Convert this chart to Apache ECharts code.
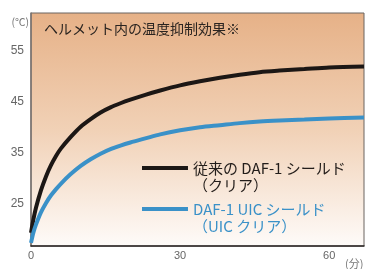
<!DOCTYPE html>
<html>
<head>
<meta charset="utf-8">
<script src="https://cdn.jsdelivr.net/npm/echarts@6/dist/echarts.min.js"></script>
<style>
  html, body { margin: 0; padding: 0; background: #fff; }
  #main { width: 367px; height: 269px; }
</style>
</head>
<body>
<div id="main"></div>
<script>
// time in minutes and temperature in °C
let minutes = [0, 0.5, 1, 2, 3, 4, 5, 6, 8, 10, 12, 14, 16, 18, 20, 23, 26, 30, 34, 38, 42, 46, 50, 55, 60, 67];
let clearShield = [19.3, 22.0, 24.2, 27.6, 30.3, 32.5, 34.3, 35.8, 38.1, 40.1, 41.6, 42.9, 43.9, 44.7, 45.4, 46.35, 47.2, 48.2, 49.0, 49.7, 50.3, 50.8, 51.1, 51.4, 51.7, 51.9];
let uicShield = [17.3, 19.4, 20.9, 23.3, 25.1, 26.6, 27.8, 28.9, 30.8, 32.4, 33.7, 34.8, 35.7, 36.4, 37.0, 37.8, 38.6, 39.4, 40.0, 40.4, 40.8, 41.1, 41.3, 41.5, 41.7, 41.9];
let xTicks = [0, 30, 60];
let yTicks = [25, 35, 45, 55];

let seriesNames = ['従来の DAF-1 シールド\n（クリア）', 'DAF-1 UIC シールド\n（UIC クリア）'];
let colors = ['#1c1715', '#3a91c8'];

const jpFont = '"Noto Sans CJK JP", "Noto Sans", sans-serif';

function pairs(values) {
    return minutes.map((t, i) => [t, values[i]]);
}

const legendIcon = 'path://M0,0H46V4H0Z M0,22H0.01V22.01H0Z';

const option = {
    animation: false,
    title: {
        text: 'ヘルメット内の温度抑制効果※',
        left: 44,
        top: 22,
        padding: 0,
        textStyle: { fontFamily: jpFont, fontSize: 14, fontWeight: 'normal', color: '#2a2420' }
    },
    grid: {
        left: 31, right: 3, top: 13, bottom: 14,
        show: true,
        borderColor: '#6b6461',
        borderWidth: 1,
        backgroundColor: new echarts.graphic.LinearGradient(0, 0, 0, 1, [
            { offset: 0, color: '#e6b187' },
            { offset: 0.5, color: '#f1d1b6' },
            { offset: 1, color: '#fefbf9' }
        ])
    },
    legend: {
        orient: 'vertical',
        left: 142,
        top: 160,
        padding: 0,
        itemGap: 7,
        itemWidth: 46,
        itemHeight: 22,
        icon: legendIcon,
        textStyle: { fontFamily: jpFont, fontSize: 15, lineHeight: 17 },
        data: [
            { name: seriesNames[0], textStyle: { color: '#231d1a' } },
            { name: seriesNames[1], textStyle: { color: colors[1] } }
        ]
    },
    xAxis: {
        type: 'value',
        min: 0,
        max: 67,
        name: '(分)',
        nameLocation: 'end',
        nameGap: -19,
        nameTextStyle: { fontFamily: jpFont, fontSize: 11, color: '#777', verticalAlign: 'top', padding: [12, 0, 0, 0] },
        axisLine: { show: true, lineStyle: { color: '#2b2624', width: 1.5 } },
        axisTick: { show: false },
        splitLine: { show: false },
        axisLabel: { customValues: xTicks, color: '#666', fontSize: 11, margin: 4 }
    },
    yAxis: {
        type: 'value',
        min: 16.7,
        max: 62.4,
        name: '(℃)',
        nameLocation: 'end',
        nameGap: -14,
        nameTextStyle: { fontFamily: jpFont, fontSize: 10.5, color: '#777', align: 'right', padding: [0, 2, 0, 0] },
        axisLine: { show: true, lineStyle: { color: '#7a7370', width: 1.5 } },
        axisTick: { show: false },
        splitLine: { show: false },
        axisLabel: { customValues: yTicks, color: '#666', fontSize: 12, margin: 7 }
    },
    series: [
        {
            name: seriesNames[0],
            type: 'line',
            data: pairs(clearShield),
            smooth: 0.3,
            showSymbol: false,
            color: colors[0],
            lineStyle: { width: 4, color: colors[0] }
        },
        {
            name: seriesNames[1],
            type: 'line',
            data: pairs(uicShield),
            smooth: 0.3,
            showSymbol: false,
            color: colors[1],
            lineStyle: { width: 4, color: colors[1] }
        }
    ]
};

let plot = echarts.init(document.querySelector('#main'));
plot.setOption(option);
</script>
</body>
</html>
